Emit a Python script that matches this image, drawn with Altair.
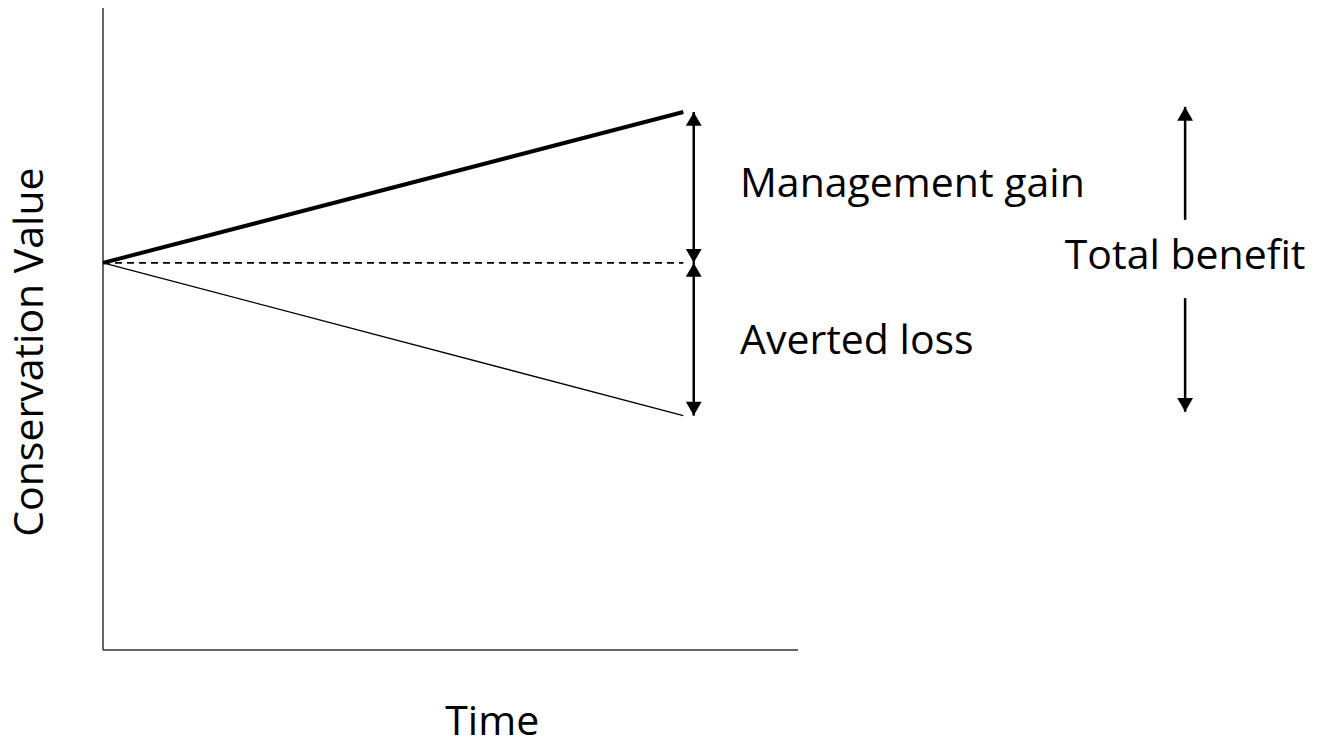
import altair as alt
import pandas as pd

# ---- data ----
time_pts = [0.0, 8.35]
with_mgmt = [6.03, 8.38]
no_change = [6.03, 6.03]
without_mgmt = [6.03, 3.65]

axis_len = 10.0

# arrows: x position, start and end values
gain_arrow = {"x": 8.50, "y0": 6.03, "y1": 8.38}
loss_arrow = {"x": 8.50, "y0": 6.03, "y1": 3.65}
total_up = {"x": 15.57, "y0": 6.70, "y1": 8.46}
total_down = {"x": 15.57, "y0": 5.48, "y1": 3.71}

labels = ["Management gain", "Averted loss", "Total benefit"]
label_x = [9.165, 9.165, 15.57]
label_y = [7.056, 4.61, 5.93]
label_align = ["left", "left", "center"]

x_title = "Time"
y_title = "Conservation Value"

XDOM = [-1.367, 17.41]
YDOM = [-1.34, 10.0]
FONT = "Open Sans"
FS = 41

X = lambda f="x": alt.X(f + ":Q", scale=alt.Scale(domain=XDOM, nice=False, zero=False), axis=None)
Y = lambda f="y": alt.Y(f + ":Q", scale=alt.Scale(domain=YDOM, nice=False, zero=False), axis=None)

layers = []

# axes drawn as rules
axes_df = pd.DataFrame({"x": [0.0, 0.0], "y": [0.0, 0.0],
                        "x2": [0.0, axis_len], "y2": [axis_len, 0.0]})
layers.append(
    alt.Chart(axes_df).mark_rule(color="#333333", strokeWidth=1.5).encode(
        x=X(), y=Y(), x2="x2:Q", y2="y2:Q")
)

# the three trajectories
def line(values, **kw):
    df = pd.DataFrame({"x": time_pts, "y": values})
    return alt.Chart(df).mark_line(color="black", **kw).encode(x=X(), y=Y())

layers.append(line(with_mgmt, strokeWidth=4))
layers.append(line(no_change, strokeWidth=1.6, strokeDash=[7, 5]))
layers.append(line(without_mgmt, strokeWidth=1.3))

# arrows
def arrow(a, head_start=False, head_end=True):
    df = pd.DataFrame({"x": [a["x"]], "y": [a["y0"]], "y2": [a["y1"]]})
    out = [alt.Chart(df).mark_rule(color="black", strokeWidth=2.5).encode(x=X(), y=Y(), y2="y2:Q")]
    def head(yv, up):
        hd = pd.DataFrame({"x": [a["x"]], "y": [yv]})
        return alt.Chart(hd).mark_point(
            shape="triangle-up" if up else "triangle-down",
            filled=True, color="black", opacity=1, size=250,
            yOffset=7 if up else -7).encode(x=X(), y=Y())
    up_end = a["y1"] > a["y0"]
    if head_end:
        out.append(head(a["y1"], up_end))
    if head_start:
        out.append(head(a["y0"], not up_end))
    return out

layers += arrow(gain_arrow, head_start=True)
layers += arrow(loss_arrow, head_start=True)
layers += arrow(total_up)
layers += arrow(total_down)

# labels
for t, lx, ly, al in zip(labels, label_x, label_y, label_align):
    df = pd.DataFrame({"x": [lx], "y": [ly], "t": [t]})
    layers.append(alt.Chart(df).mark_text(
        font=FONT, fontSize=FS, color="black", align=al, baseline="alphabetic").encode(
        x=X(), y=Y(), text="t:N"))

# axis titles
df = pd.DataFrame({"x": [5.6], "y": [-1.325], "t": [x_title]})
layers.append(alt.Chart(df).mark_text(
    font=FONT, fontSize=FS, color="black", align="center", baseline="alphabetic").encode(
    x=X(), y=Y(), text="t:N"))
df = pd.DataFrame({"x": [-0.863], "y": [4.64], "t": [y_title]})
layers.append(alt.Chart(df).mark_text(
    font=FONT, fontSize=FS, color="black", align="center", baseline="alphabetic", angle=270).encode(
    x=X(), y=Y(), text="t:N"))

chart = alt.layer(*layers).properties(
    width=1305, height=728, padding=0, background="white",
    autosize=alt.AutoSizeParams(type="none")
).configure_view(stroke=None)

chart.save("out.html", embed_options={"renderer": "svg", "actions": False})
